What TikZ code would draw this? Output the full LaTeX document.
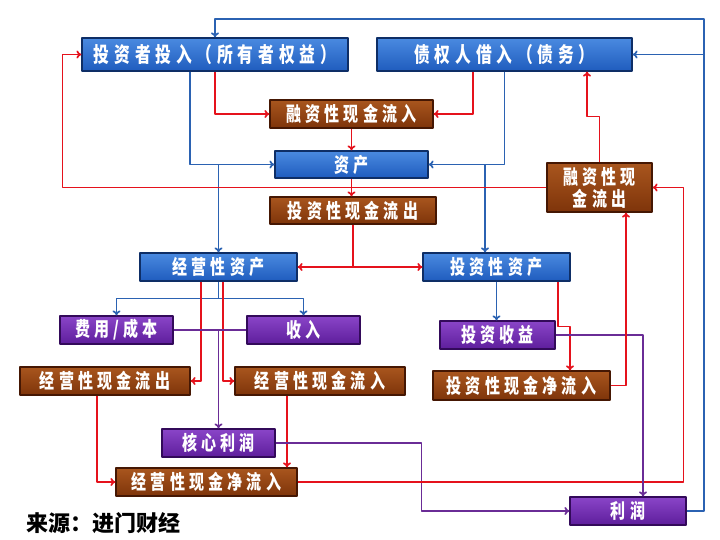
\documentclass[tikz,border=0pt]{standalone}
\usepackage{fontspec}
\usetikzlibrary{arrows.meta}
\newfontfamily\cjkfont{Noto Sans CJK SC}[LetterSpace=21,FakeStretch=0.75]
\newfontfamily\cjkwide{Noto Sans CJK SC}[LetterSpace=23,FakeStretch=0.75]
\newfontfamily\cjkplain{Noto Sans CJK SC}

\definecolor{boxblue}{HTML}{1F5CBE}
\definecolor{boxbluetop}{HTML}{4A8AE0}
\definecolor{boxblueedge}{HTML}{0E2E66}
\definecolor{boxbrown}{HTML}{7E340A}
\definecolor{boxbrowntop}{HTML}{A9561E}
\definecolor{boxbrownedge}{HTML}{451703}
\definecolor{boxpurple}{HTML}{5E1E9C}
\definecolor{boxpurpletop}{HTML}{8A45C8}
\definecolor{boxpurpleedge}{HTML}{330A5A}
\definecolor{flowblue}{HTML}{2B62B2}
\definecolor{flowred}{HTML}{E5121C}
\definecolor{flowpurple}{HTML}{6A2C96}

\begin{document}
\begin{tikzpicture}[
  x=1pt,
  y=-1pt,
  line join=round,
  >={To[length=5pt,width=8pt]},
  box/.style={inner sep=0pt,text=white,align=center,
    font=\cjkfont\bfseries\fontsize{20}{22}\selectfont,line width=1.2pt},
  bluebox/.style={box,top color=boxbluetop,bottom color=boxblue,draw=boxblueedge},
  brownbox/.style={box,top color=boxbrowntop,bottom color=boxbrown,draw=boxbrownedge},
  purplebox/.style={box,top color=boxpurpletop,bottom color=boxpurple,draw=boxpurpleedge},
  blueflow/.style={draw=flowblue,line width=1.7pt},
  redflow/.style={draw=flowred,line width=1.7pt},
  purpleflow/.style={draw=flowpurple,line width=1.7pt}
]
  % Match the 720x540 frame of the original chart.
  \useasboundingbox (0,0) rectangle (720,540);

  % Sources of funds and the asset pool.
  \node[bluebox,minimum width=266,minimum height=33,font=\cjkwide\bfseries\fontsize{21}{21}\selectfont]
    (owner) at (215,54.5) {投资者投入（所有者权益）};
  \node[bluebox,minimum width=255,minimum height=33,font=\cjkwide\bfseries\fontsize{21}{21}\selectfont]
    (creditor) at (504.5,54.5) {债权人借入（债务）};
  \node[brownbox,minimum width=163,minimum height=28] (fininflow) at (351.5,114) {融资性现金流入};
  \node[bluebox,minimum width=153,minimum height=27] (assets) at (351.5,164.5) {资产};
  \node[brownbox,minimum width=166,minimum height=27] (invout) at (353,210.5) {投资性现金流出};
  \node[brownbox,minimum width=105,minimum height=49] (finout) at (599.5,187.5) {融资性现\\金流出};

  % Operating and investing sides.
  \node[bluebox,minimum width=157,minimum height=28] (opasset) at (218.5,267) {经营性资产};
  \node[bluebox,minimum width=147,minimum height=28] (invasset) at (496.5,267) {投资性资产};
  \node[purplebox,minimum width=113,minimum height=28] (cost) at (116.5,330) {费用/成本};
  \node[purplebox,minimum width=113,minimum height=28] (revenue) at (303.5,330) {收入};
  \node[purplebox,minimum width=115,minimum height=28] (invgain) at (497.5,335) {投资收益};
  \node[brownbox,minimum width=170,minimum height=28] (opout) at (105,381) {经营性现金流出};
  \node[brownbox,minimum width=170,minimum height=28] (opin) at (320,381) {经营性现金流入};
  \node[brownbox,minimum width=177,minimum height=29] (invnet) at (521.5,385.5) {投资性现金净流入};
  \node[purplebox,minimum width=113,minimum height=28] (core) at (218.5,443) {核心利润};
  \node[brownbox,minimum width=181,minimum height=28] (opnet) at (206.5,482) {经营性现金净流入};
  \node[purplebox,minimum width=116,minimum height=28] (profit) at (628,511) {利润};

  \node[anchor=west,font=\cjkplain\bfseries\fontsize{22}{22}\selectfont] (source) at (23,523) {来源：进门财经};

  % Profit feeds back to both funding sources.
  \coordinate (loopright) at (704,19);
  \coordinate (loopmid) at (704,54.5);
  \draw[blueflow,->] (profit.east) -| (loopright) -| (owner.north);
  \draw[blueflow,->] (loopmid) -- (creditor.east);

  % Financing inflows into assets.
  \draw[redflow,->] (owner.south) |- (fininflow.west);
  \draw[redflow,->] ([xshift=-31.5]creditor.south) |- (fininflow.east);
  \draw[redflow,->] (fininflow.south) -- (assets.north);
  \draw[blueflow,->] ([xshift=-25]owner.south) |- (assets.west);
  \draw[blueflow,->] (creditor.south) |- (assets.east);
  \draw[blueflow,->] (opasset.north |- assets.west) -- (opasset.north);
  \draw[blueflow,->] ([xshift=-11.5]invasset.north |- assets.east) -- ([xshift=-11.5]invasset.north);
  \draw[redflow,->] (assets.south) -- (assets.south |- invout.north);

  % Investing cash outflow splits to both asset types.
  \draw[redflow] (invout.south) -- (invout.south |- opasset.east) coordinate (split);
  \draw[redflow,->] (split) -- (opasset.east);
  \draw[redflow,->] (split) -- (invasset.west);

  % Financing outflows back to the funding sources.
  \draw[redflow,->] (finout.west) -| ([xshift=-19]owner.west) -- (owner.west);
  \draw[redflow,->] (finout.north) -- ++(0,-46) -| ([xshift=82.5]creditor.south);

  % Operating side.
  \draw[blueflow] (opasset.south) -- ++(0,17) coordinate (fork);
  \draw[blueflow,->] (fork) -| (cost.north);
  \draw[blueflow,->] (fork) -| (revenue.north);
  \draw[redflow,->] ([xshift=-17.5]opasset.south) |- (opout.east);
  \draw[redflow,->] ([xshift=4.5]opasset.south) |- (opin.west);
  \draw[purpleflow] (cost.east) -- (revenue.west);
  \draw[purpleflow,->] (core.north |- cost.east) -- (core.north);
  \draw[redflow,->] ([xshift=-8]opout.south) |- (opnet.west);
  \draw[redflow,->] ([xshift=-33]opin.south) -- ([xshift=-33]opin.south |- opnet.north);
  \draw[purpleflow,->] (core.east) -| ([xshift=-148]profit.west) -- (profit.west);
  \draw[redflow,->] (opnet.east) -| ([xshift=31]finout.east) -- (finout.east);

  % Investing side.
  \draw[blueflow,->] (invasset.south) -- (invasset.south |- invgain.north);
  \draw[redflow,->] ([xshift=61.5]invasset.south) -- ++(0,45) -| ([xshift=48.5]invnet.north);
  \draw[purpleflow,->] (invgain.east) -| ([xshift=15]profit.north);
  \draw[redflow,->] (invnet.east) -| ([xshift=26.5]finout.south);
\end{tikzpicture}
\end{document}
